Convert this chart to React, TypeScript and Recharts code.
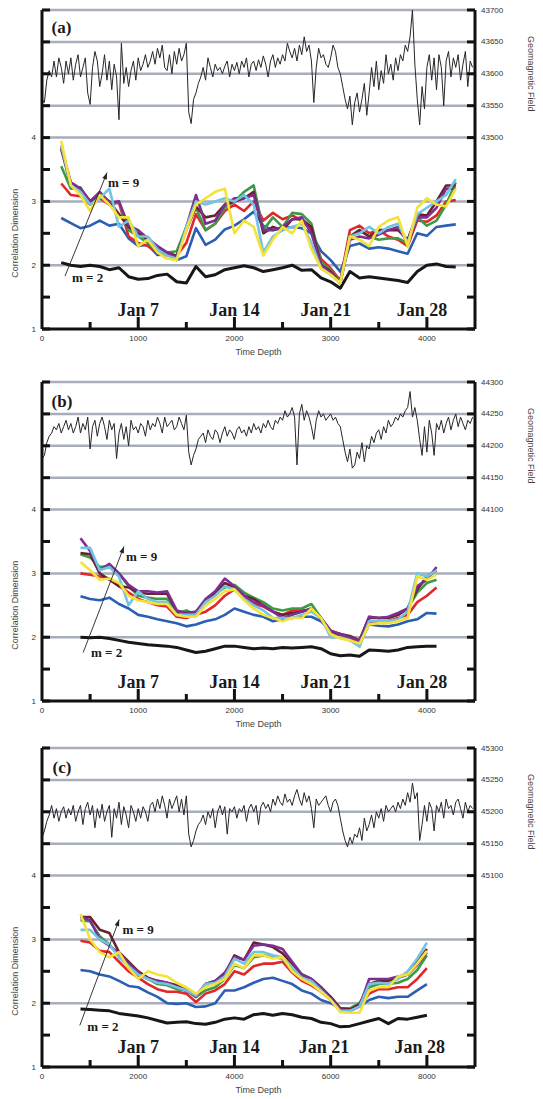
import React from 'react'
import { ComposedChart, Line, XAxis, YAxis, ReferenceLine, ReferenceDot } from 'recharts'

// ---------- panel (a) ----------
const X_A = [200, 300, 400, 500, 600, 700, 800, 900, 1000, 1100, 1200, 1300, 1400, 1500, 1600, 1700, 1800, 1900, 2000, 2100, 2200, 2300, 2400, 2500, 2600, 2700, 2800, 2900, 3000, 3100, 3200, 3300, 3400, 3500, 3600, 3700, 3800, 3900, 4000, 4100, 4200, 4300]
const M2_A = [2.04, 2.0, 1.98, 2.0, 1.98, 1.93, 1.96, 1.82, 1.78, 1.79, 1.84, 1.86, 1.74, 1.72, 1.98, 1.82, 1.85, 1.93, 1.96, 1.99, 1.96, 1.9, 1.93, 1.96, 2.0, 1.92, 1.93, 1.8, 1.74, 1.64, 1.9, 1.8, 1.82, 1.8, 1.78, 1.76, 1.73, 1.9, 2.0, 2.02, 1.98, 1.97]
const M3_A = [2.74, 2.66, 2.58, 2.62, 2.7, 2.62, 2.65, 2.42, 2.3, 2.32, 2.16, 2.17, 2.08, 2.14, 2.58, 2.32, 2.4, 2.56, 2.62, 2.72, 2.84, 2.62, 2.55, 2.58, 2.6, 2.58, 2.5, 2.22, 2.08, 1.9, 2.3, 2.34, 2.26, 2.28, 2.26, 2.22, 2.18, 2.5, 2.46, 2.6, 2.62, 2.64]
const M4_A = [3.28, 3.1, 3.08, 2.95, 3.05, 2.95, 2.98, 2.45, 2.35, 2.3, 2.2, 2.15, 2.15, 2.35, 2.8, 2.55, 2.65, 2.85, 2.95, 2.85, 3.0, 2.7, 2.82, 2.72, 2.78, 2.7, 2.55, 2.1, 1.95, 1.76, 2.55, 2.62, 2.5, 2.55, 2.45, 2.4, 2.3, 2.7, 2.68, 2.78, 3.0, 3.02]
const M5_A = [3.55, 3.2, 3.22, 2.95, 3.1, 2.95, 3.0, 2.55, 2.45, 2.35, 2.22, 2.2, 2.22, 2.6, 2.9, 2.55, 2.65, 2.9, 3.0, 3.15, 3.25, 2.55, 2.75, 2.6, 2.82, 2.8, 2.65, 2.05, 1.92, 1.74, 2.45, 2.55, 2.45, 2.4, 2.42, 2.42, 2.35, 2.75, 2.62, 2.7, 2.95, 3.3]
const M6_A = [3.82, 3.25, 3.2, 3.0, 3.12, 3.0, 2.8, 2.6, 2.5, 2.4, 2.25, 2.2, 2.15, 2.55, 2.92, 2.75, 2.78, 2.95, 3.0, 3.05, 3.15, 2.5, 2.6, 2.55, 2.72, 2.72, 2.6, 2.0, 1.9, 1.72, 2.45, 2.55, 2.45, 2.55, 2.55, 2.55, 2.4, 2.8, 2.78, 3.0, 3.25, 3.25]
const M7_A = [3.85, 3.3, 3.2, 3.0, 3.15, 2.98, 3.0, 2.62, 2.55, 2.42, 2.3, 2.2, 2.12, 2.6, 3.1, 2.65, 2.7, 2.95, 3.05, 3.05, 3.1, 2.55, 2.55, 2.6, 2.72, 2.75, 2.5, 2.0, 1.88, 1.72, 2.4, 2.45, 2.42, 2.48, 2.55, 2.6, 2.35, 2.75, 2.75, 2.9, 3.2, 3.2]
const M8_A = [3.88, 3.25, 3.15, 2.95, 3.05, 3.2, 2.6, 2.7, 2.45, 2.45, 2.25, 2.15, 2.1, 2.6, 3.0, 2.95, 3.0, 3.05, 3.0, 3.1, 2.95, 2.2, 2.45, 2.55, 2.6, 2.65, 2.35, 1.95, 1.85, 1.72, 2.45, 2.5, 2.6, 2.5, 2.6, 2.65, 2.35, 2.8, 2.9, 3.0, 3.1, 3.35]
const M9_A = [3.95, 3.25, 3.1, 2.85, 3.1, 2.95, 2.75, 2.75, 2.3, 2.4, 2.2, 2.1, 2.08, 2.55, 2.95, 3.05, 3.15, 3.2, 2.5, 2.7, 2.6, 2.15, 2.4, 2.6, 2.5, 2.7, 2.25, 1.95, 1.85, 1.72, 2.45, 2.4, 2.3, 2.6, 2.7, 2.75, 2.3, 2.9, 3.05, 2.95, 2.92, 3.2]
// geomagnetic field, deviation from 43600 nT, one value every 25 time-depth units
const GEO_A = [
  -40, -45, -10, 5, -5, 20, -5, 25, 10, -15,
  20, 0, 25, -10, 15, 30, -5, 10, 25, -30,
  -48, 10, 35, 20, -20, 0, 30, -10, 20, -25,
  15, -5, -72, 48, -15, 10, -20, 5, 20, -10,
  25, 5, 15, 30, 10, 20, 35, 15, 40, 25,
  45, 10, 5, 30, 0, 35, 15, 40, 20, 30,
  48, -60, -78, -40, -30, -15, -5, 10, -10, 25,
  10, -5, 15, 5, 10, 0, 12, 20, -5, 15,
  5, 18, 0, 20, 10, 25, -5, 15, 20, 5,
  22, 10, 28, 15, -5, 20, 30, 10, 25, 15,
  30, 20, 48, 35, 25, 40, 20, 45, 30, 58,
  35, 45, 20, -45, 10, 40, 25, 30, 15, 10,
  25, 45, 35, 10, 0, -20, -40, -55, -35, -80,
  -45, -30, -60, -40, -15, -65, -30, 10, -20, 20,
  -25, 5, -15, 30, 0, 15, -10, 25, 5, 30,
  20, 45, 35, 58, 100, 15, -40, -80, -20, -55,
  10, 30, -10, 25, -25, 30, 10, -50, 20, 35,
  -5, 25, 10, 30, -10, 15, 35, -20, 20, 10,
]

// ---------- panel (b) ----------
const X_B = [400, 500, 600, 700, 800, 900, 1000, 1100, 1200, 1300, 1400, 1500, 1600, 1700, 1800, 1900, 2000, 2100, 2200, 2300, 2400, 2500, 2600, 2700, 2800, 2900, 3000, 3100, 3200, 3300, 3400, 3500, 3600, 3700, 3800, 3900, 4000, 4100]
const M2_B = [2.0, 1.99, 2.0, 1.98, 1.95, 1.92, 1.9, 1.88, 1.87, 1.86, 1.84, 1.8, 1.76, 1.78, 1.82, 1.86, 1.86, 1.84, 1.82, 1.83, 1.82, 1.84, 1.83, 1.84, 1.85, 1.82, 1.74, 1.71, 1.72, 1.7, 1.8, 1.79, 1.78, 1.8, 1.84, 1.85, 1.86, 1.86]
const M3_B = [2.64, 2.6, 2.58, 2.62, 2.52, 2.45, 2.35, 2.32, 2.28, 2.25, 2.22, 2.17, 2.2, 2.25, 2.28, 2.35, 2.45, 2.4, 2.35, 2.32, 2.25, 2.28, 2.3, 2.32, 2.32, 2.25, 2.1, 2.0, 1.95, 1.9, 2.2, 2.18, 2.17, 2.2, 2.25, 2.28, 2.38, 2.37]
const M4_B = [3.0, 2.98, 2.95, 2.92, 2.8, 2.7, 2.6, 2.55, 2.5, 2.48, 2.32, 2.3, 2.35, 2.4, 2.5, 2.65, 2.75, 2.62, 2.52, 2.48, 2.4, 2.35, 2.42, 2.42, 2.42, 2.3, 2.05, 2.02, 2.0, 1.92, 2.22, 2.25, 2.25, 2.3, 2.35, 2.55, 2.65, 2.78]
const M5_B = [3.3, 3.25, 3.1, 3.12, 3.0, 2.8, 2.65, 2.62, 2.6, 2.6, 2.38, 2.42, 2.35, 2.55, 2.68, 2.78, 2.82, 2.7, 2.62, 2.55, 2.45, 2.42, 2.45, 2.45, 2.52, 2.3, 2.1, 2.05, 2.0, 1.95, 2.32, 2.3, 2.3, 2.35, 2.45, 2.7, 2.85, 2.9]
const M6_B = [3.32, 3.3, 3.0, 2.9, 2.8, 2.78, 2.7, 2.68, 2.68, 2.68, 2.4, 2.38, 2.4, 2.55, 2.7, 2.85, 2.78, 2.65, 2.6, 2.5, 2.4, 2.35, 2.38, 2.4, 2.45, 2.3, 2.08, 2.05, 2.02, 1.95, 2.3, 2.3, 2.3, 2.35, 2.45, 2.75, 2.95, 3.05]
const M7_B = [3.55, 3.35, 3.05, 3.15, 3.0, 2.82, 2.72, 2.72, 2.7, 2.72, 2.42, 2.38, 2.4, 2.6, 2.72, 2.92, 2.8, 2.65, 2.55, 2.5, 2.4, 2.3, 2.35, 2.4, 2.45, 2.3, 2.1, 2.05, 2.0, 1.95, 2.32, 2.3, 2.32, 2.38, 2.45, 2.8, 2.9, 3.1]
const M8_B = [3.4, 3.4, 3.05, 3.1, 2.95, 2.5, 2.72, 2.6, 2.55, 2.55, 2.35, 2.35, 2.35, 2.55, 2.65, 2.8, 2.75, 2.6, 2.5, 2.42, 2.3, 2.3, 2.3, 2.35, 2.4, 2.3, 2.0, 2.0, 1.95, 1.85, 2.25, 2.25, 2.25, 2.28, 2.4, 3.0, 2.95, 3.05]
const M9_B = [3.18, 3.05, 2.9, 2.92, 2.85, 2.65, 2.58, 2.55, 2.52, 2.52, 2.35, 2.32, 2.32, 2.5, 2.6, 2.72, 2.75, 2.58, 2.45, 2.35, 2.3, 2.25, 2.3, 2.3, 2.45, 2.3, 2.05, 1.98, 1.95, 1.9, 2.2, 2.22, 2.22, 2.25, 2.3, 2.95, 2.9, 2.98]
// deviation from 44200 nT, every 25 units
const GEO_B = [
  -20, -15, 5, 15, 20, 30, 25, 35, 20, 30,
  40, 25, 35, 20, 30, 45, 20, 35, 25, 45,
  -5, 30, 40, 15, 35, 45, 30, 10, 40, 25,
  35, -20, 20, 35, 10, 30, 0, 40, 25, 30,
  20, 35, 30, 15, 40, 25, 35, 30, 45, 35,
  20, 45, 30, 35, 40, 25, 30, 45, 35, 25,
  48, -10, -30, -15, -5, 10, 15, 20, 5, 25,
  15, 10, 25, 20, 5, 20, 30, 15, 25, 20,
  10, 25, 30, 20, 25, 15, 30, 20, 35, 25,
  30, 20, 35, 28, 40, 30, 25, 40, 35, 45,
  40, 55, 45, 50, 60, 45, -30, 50, 65, 40,
  55, 45, 30, 10, 40, 55, 45, 50, 40, 45,
  50, 40, 45, 35, 30, 10, -10, -25, -5, -35,
  -30, -10, -20, 5, -25, 0, -5, 15, 5, 20,
  25, 10, 30, 20, 40, 30, 35, 45, 40, 50,
  45, 55, 60, 85, 45, 60, 40, 10, -15, 30,
  -10, 40, 20, -15, 35, 25, 40, 20, 35, 45,
  25, 40, 50, 30, 45, 35, 25, 40, 35, 45,
]

// ---------- panel (c) ----------
const X_C = [800, 1000, 1200, 1400, 1600, 1800, 2000, 2200, 2400, 2600, 2800, 3000, 3200, 3400, 3600, 3800, 4000, 4200, 4400, 4600, 4800, 5000, 5200, 5400, 5600, 5800, 6000, 6200, 6400, 6600, 6800, 7000, 7200, 7400, 7600, 7800, 8000]
const M2_C = [1.91, 1.9, 1.89, 1.88, 1.84, 1.82, 1.8, 1.77, 1.73, 1.69, 1.7, 1.71, 1.68, 1.67, 1.7, 1.75, 1.77, 1.75, 1.82, 1.84, 1.81, 1.84, 1.82, 1.78, 1.76, 1.7, 1.68, 1.63, 1.64, 1.68, 1.72, 1.76, 1.68, 1.76, 1.75, 1.78, 1.81]
const M3_C = [2.52, 2.5, 2.45, 2.42, 2.35, 2.27, 2.25, 2.17, 2.1, 2.0, 1.99, 2.0, 1.94, 1.95, 2.0, 2.2, 2.2, 2.25, 2.32, 2.38, 2.4, 2.35, 2.3, 2.2, 2.15, 2.05, 2.0, 1.92, 1.9, 1.95, 2.05, 2.1, 2.08, 2.1, 2.1, 2.2, 2.3]
const M4_C = [2.98, 2.95, 2.82, 2.8, 2.65, 2.5, 2.4, 2.3, 2.22, 2.18, 2.18, 2.15, 2.02, 2.15, 2.2, 2.3, 2.5, 2.45, 2.58, 2.62, 2.62, 2.65, 2.48, 2.35, 2.28, 2.18, 2.05, 1.88, 1.88, 1.95, 2.15, 2.22, 2.22, 2.25, 2.25, 2.38, 2.55]
const M5_C = [3.3, 3.28, 3.05, 2.92, 2.75, 2.6, 2.45, 2.38, 2.3, 2.28, 2.22, 2.2, 2.1, 2.2, 2.25, 2.38, 2.6, 2.55, 2.72, 2.75, 2.72, 2.7, 2.55, 2.4, 2.35, 2.22, 2.1, 1.92, 1.92, 2.0, 2.25, 2.3, 2.3, 2.32, 2.38, 2.52, 2.75]
const M6_C = [3.35, 3.35, 3.15, 3.1, 2.8, 2.65, 2.5, 2.4, 2.35, 2.32, 2.28, 2.2, 2.12, 2.3, 2.35, 2.45, 2.75, 2.68, 2.95, 2.92, 2.88, 2.78, 2.62, 2.45, 2.38, 2.25, 2.1, 1.92, 1.9, 1.98, 2.3, 2.35, 2.35, 2.4, 2.45, 2.65, 2.85]
const M7_C = [3.35, 3.3, 3.0, 2.9, 2.78, 2.62, 2.48, 2.38, 2.35, 2.32, 2.25, 2.2, 2.1, 2.3, 2.35, 2.48, 2.72, 2.68, 2.9, 2.92, 2.9, 2.85, 2.65, 2.45, 2.38, 2.25, 2.08, 1.9, 1.88, 1.95, 2.38, 2.38, 2.38, 2.42, 2.45, 2.6, 2.8]
const M8_C = [3.15, 3.15, 3.0, 2.92, 2.72, 2.58, 2.45, 2.38, 2.32, 2.3, 2.25, 2.2, 2.12, 2.3, 2.32, 2.42, 2.7, 2.62, 2.8, 2.8, 2.75, 2.72, 2.55, 2.4, 2.35, 2.2, 2.05, 1.88, 1.88, 1.95, 2.3, 2.32, 2.3, 2.38, 2.5, 2.7, 2.95]
const M9_C = [3.4, 3.0, 2.8, 2.72, 2.8, 2.55, 2.38, 2.5, 2.45, 2.42, 2.32, 2.25, 2.15, 2.25, 2.3, 2.38, 2.62, 2.55, 2.75, 2.75, 2.7, 2.72, 2.5, 2.38, 2.3, 2.18, 2.05, 1.86, 1.85, 1.85, 2.2, 2.25, 2.25, 2.42, 2.45, 2.62, 2.82]
// deviation from 45200 nT, every 50 units
const GEO_C = [
  -40, -30, -15, -5, 10, -10, 5, -15, 0, 8,
  -10, 5, -5, 10, -15, 0, 10, -20, 5, 15,
  -5, 10, -25, 5, -10, 12, -15, 0, 10, -40,
  5, -10, 15, -20, 8, -5, -25, 10, 0, -15,
  5, -10, 8, 0, -15, 10, 15, 0, 20, 5,
  25, 10, -10, 20, 5, 15, 25, 0, 20, -5,
  25, -35, -55, -45, -30, -20, -15, -5, -20, 0,
  -10, 5, -25, 0, 10, -5, 8, -35, 5, 0,
  8, -10, 5, 0, 10, -15, 5, 12, 0, 10,
  -20, 8, 15, 5, 12, 0, 20, 10, 25, 15,
  10, 28, 15, 20, 10, 25, 35, 20, 10, 30,
  15, 25, 5, -25, 20, 10, 15, 20, 25, 10,
  0, 15, 20, 10, -10, -30, -45, -55, -40, -50,
  -35, -40, -25, -45, -10, -30, -20, -5, -25, 0,
  -10, 5, -15, 10, 0, 5, 10, 0, 15, 5,
  20, 10, 30, 15, 45, 20, 30, -45, -20, 10,
  -15, 15, 5, -30, 10, 0, 15, -10, 20, 5,
  10, -5, 15, 20, 5, -10, 15, 0, 10, 5,
]

const CD_TICKS = [1, 1.5, 2, 2.5, 3, 3.5, 4, 4.5, 5, 5.5, 6]
const GRID_LEVELS = [2, 3, 4, 4.5, 5, 5.5, 6]
const DATE_LABELS = ['Jan 7', 'Jan 14', 'Jan 21', 'Jan 28']

const SERIES = [
  { key: 'm2', color: '#171717', width: 3 },
  { key: 'm3', color: '#2b5fb4', width: 2.6 },
  { key: 'm4', color: '#e3262a', width: 2.6 },
  { key: 'm5', color: '#3f9a46', width: 2.6 },
  { key: 'm6', color: '#6b2130', width: 2.6 },
  { key: 'm7', color: '#7c2f8f', width: 2.6 },
  { key: 'm8', color: '#72c3e4', width: 2.6 },
  { key: 'm9', color: '#f4e23a', width: 2.6 },
]

const SANS = '"Liberation Sans", Arial, sans-serif'
const SERIF = '"Liberation Serif", "Times New Roman", serif'
const GAP = 6

interface PanelConfig {
  tag: string
  xs: number[]
  dims: number[][]
  geo: number[]
  geoBase: number
  geoStep: number
  geoDomain: [number, number]
  geoTicks: number[]
  xMax: number
  xTicks: number[]
  xMajor: number
  dates: number[]
  dateY: number
  tagPos: [number, number]
  m9Pos: [number, number]
  m2Pos: [number, number]
  arrow: [number, number, number, number]
}

const PANELS: PanelConfig[] = [
  {
    tag: '(a)', xs: X_A, dims: [M2_A, M3_A, M4_A, M5_A, M6_A, M7_A, M8_A, M9_A],
    geo: GEO_A, geoBase: 43600, geoStep: 25, geoDomain: [43200, 43700],
    geoTicks: [43200, 43250, 43300, 43350, 43400, 43450, 43500, 43550, 43600, 43650, 43700],
    xMax: 4500, xTicks: [0, 500, 1000, 1500, 2000, 2500, 3000, 3500, 4000, 4500], xMajor: 1000,
    dates: [1000, 2000, 2950, 3950], dateY: 1.3,
    tagPos: [100, 5.72], m9Pos: [686, 3.3], m2Pos: [312, 1.81], arrow: [239, 1.83, 676, 3.45],
  },
  {
    tag: '(b)', xs: X_B, dims: [M2_B, M3_B, M4_B, M5_B, M6_B, M7_B, M8_B, M9_B],
    geo: GEO_B, geoBase: 44200, geoStep: 25, geoDomain: [43800, 44300],
    geoTicks: [43800, 43850, 43900, 43950, 44000, 44050, 44100, 44150, 44200, 44250, 44300],
    xMax: 4500, xTicks: [0, 500, 1000, 1500, 2000, 2500, 3000, 3500, 4000, 4500], xMajor: 1000,
    dates: [1000, 2000, 2950, 3950], dateY: 1.29,
    tagPos: [100, 5.69], m9Pos: [873, 3.26], m2Pos: [509, 1.76], arrow: [428, 1.76, 852, 3.42],
  },
  {
    tag: '(c)', xs: X_C, dims: [M2_C, M3_C, M4_C, M5_C, M6_C, M7_C, M8_C, M9_C],
    geo: GEO_C, geoBase: 45200, geoStep: 50, geoDomain: [44800, 45300],
    geoTicks: [44800, 44850, 44900, 44950, 45000, 45050, 45100, 45150, 45200, 45250, 45300],
    xMax: 9000, xTicks: [0, 1000, 2000, 3000, 4000, 5000, 6000, 7000, 8000, 9000], xMajor: 2000,
    dates: [2000, 4000, 5860, 7850], dateY: 1.31,
    tagPos: [220, 5.7], m9Pos: [1672, 3.15], m2Pos: [942, 1.64], arrow: [785, 1.65, 1604, 3.31],
  },
]

interface TickProps {
  x?: number
  y?: number
  payload?: { value: number }
}

function LeftTick({ x = 0, y = 0, payload }: TickProps) {
  const v = payload?.value ?? 0
  const edge = x + GAP
  return (
    <g>
      <line x1={edge} x2={edge + 8} y1={y} y2={y} stroke="#111" strokeWidth={3} />
      {Number.isInteger(v) && v <= 4 ? (
        <text x={x} y={y} textAnchor="end" dominantBaseline="central" fontSize={8} fontFamily={SANS} fill="#333">
          {v}
        </text>
      ) : null}
    </g>
  )
}

function RightTick({ x = 0, y = 0, payload, min }: TickProps & { min: number }) {
  const v = payload?.value ?? 0
  const edge = x - GAP
  return (
    <g>
      <line x1={edge - 8} x2={edge} y1={y} y2={y} stroke="#111" strokeWidth={3} />
      {v >= min ? (
        <text x={x} y={y} textAnchor="start" dominantBaseline="central" fontSize={8} fontFamily={SANS} fill="#333">
          {v}
        </text>
      ) : null}
    </g>
  )
}

function BottomTick({ x = 0, y = 0, payload, major, max }: TickProps & { major: number; max: number }) {
  const v = payload?.value ?? 0
  const edge = y - GAP
  const isMajor = v % major === 0
  return (
    <g>
      {v > 0 && v < max ? (
        <line x1={x} x2={x} y1={edge} y2={edge - (isMajor ? 12 : 7)} stroke="#111" strokeWidth={3} />
      ) : null}
      {isMajor && v < max ? (
        <text x={x} y={y} textAnchor="middle" dominantBaseline="hanging" fontSize={8} fontFamily={SANS} fill="#333">
          {v}
        </text>
      ) : null}
    </g>
  )
}

function ArrowShape(props: { x1?: number; y1?: number; x2?: number; y2?: number }) {
  const { x1 = 0, y1 = 0, x2 = 0, y2 = 0 } = props
  const ang = Math.atan2(y2 - y1, x2 - x1)
  const len = 7
  const a = [x2 - len * Math.cos(ang - 0.35), y2 - len * Math.sin(ang - 0.35)]
  const b = [x2 - len * Math.cos(ang + 0.35), y2 - len * Math.sin(ang + 0.35)]
  return (
    <g>
      <line x1={x1} y1={y1} x2={x2} y2={y2} stroke="#222" strokeWidth={0.9} />
      <polygon points={`${x2},${y2} ${a[0]},${a[1]} ${b[0]},${b[1]}`} fill="#222" />
    </g>
  )
}

function textShape(text: string, opts: { dx?: number; dy?: number; size: number; anchor?: string; serif?: boolean; bold?: boolean; rotate?: number; fill?: string }) {
  return (p: { cx?: number; cy?: number }) => {
    const cx = (p.cx ?? 0) + (opts.dx ?? 0)
    const cy = (p.cy ?? 0) + (opts.dy ?? 0)
    return (
      <text
        x={cx}
        y={cy}
        textAnchor={opts.anchor ?? 'start'}
        dominantBaseline="central"
        fontSize={opts.size}
        fontFamily={opts.serif ? SERIF : SANS}
        fontWeight={opts.bold ? 'bold' : 'normal'}
        fill={opts.fill ?? '#1a1a1a'}
        transform={opts.rotate ? `rotate(${opts.rotate} ${cx} ${cy})` : undefined}
      >
        {text}
      </text>
    )
  }
}

function Panel({ cfg }: { cfg: PanelConfig }) {
  const rows = cfg.xs.map((x, i) => {
    const row: Record<string, number> = { x }
    SERIES.forEach((s, k) => {
      row[s.key] = cfg.dims[k][i]
    })
    return row
  })
  const geoData = cfg.geo.map((d, i) => ({ x: i * cfg.geoStep, v: cfg.geoBase + d }))
  const labelMin = cfg.geoDomain[1] - 200

  return (
    <ComposedChart width={543} height={367} data={rows} margin={{ top: 10, right: 8, bottom: 8, left: 12 }}>
      <XAxis
        dataKey="x"
        type="number"
        domain={[0, cfg.xMax]}
        ticks={cfg.xTicks}
        interval={0}
        allowDataOverflow
        height={30}
        tickSize={0}
        tickMargin={GAP}
        axisLine={{ stroke: '#111', strokeWidth: 3 }}
        tick={(p: TickProps) => <BottomTick {...p} major={cfg.xMajor} max={cfg.xMax} />}
      />
      <YAxis
        yAxisId="cd"
        orientation="left"
        type="number"
        domain={[1, 6]}
        ticks={CD_TICKS}
        interval={0}
        allowDataOverflow
        width={30}
        tickSize={0}
        tickMargin={GAP}
        axisLine={{ stroke: '#111', strokeWidth: 3 }}
        tick={(p: TickProps) => <LeftTick {...p} />}
      />
      <YAxis
        yAxisId="geo"
        orientation="right"
        type="number"
        domain={cfg.geoDomain}
        ticks={cfg.geoTicks}
        interval={0}
        allowDataOverflow
        width={60}
        tickSize={0}
        tickMargin={GAP}
        axisLine={{ stroke: '#111', strokeWidth: 3 }}
        tick={(p: TickProps) => <RightTick {...p} min={labelMin} />}
      />
      {GRID_LEVELS.map((lv) => (
        <ReferenceLine key={lv} yAxisId="cd" y={lv} stroke="#a7adba" strokeWidth={2.5} />
      ))}
      <Line
        yAxisId="geo"
        data={geoData}
        dataKey="v"
        type="linear"
        stroke="#262626"
        strokeWidth={1}
        dot={false}
        isAnimationActive={false}
      />
      {SERIES.map((s) => (
        <Line
          key={s.key}
          yAxisId="cd"
          dataKey={s.key}
          type="linear"
          stroke={s.color}
          strokeWidth={s.width}
          strokeLinejoin="round"
          dot={false}
          isAnimationActive={false}
        />
      ))}
      <ReferenceLine
        yAxisId="cd"
        segment={[
          { x: cfg.arrow[0], y: cfg.arrow[1] },
          { x: cfg.arrow[2], y: cfg.arrow[3] },
        ]}
        shape={ArrowShape}
      />
      <ReferenceDot yAxisId="cd" x={cfg.tagPos[0]} y={cfg.tagPos[1]} shape={textShape(cfg.tag, { size: 17, serif: true, bold: true })} />
      <ReferenceDot yAxisId="cd" x={cfg.m9Pos[0]} y={cfg.m9Pos[1]} shape={textShape('m = 9', { size: 13, serif: true, bold: true })} />
      <ReferenceDot yAxisId="cd" x={cfg.m2Pos[0]} y={cfg.m2Pos[1]} shape={textShape('m = 2', { size: 13, serif: true, bold: true })} />
      {cfg.dates.map((d, i) => (
        <ReferenceDot
          key={d}
          yAxisId="cd"
          x={d}
          y={cfg.dateY}
          shape={textShape(DATE_LABELS[i], { size: 18, serif: true, bold: true, anchor: 'middle' })}
        />
      ))}
      <ReferenceDot
        yAxisId="cd"
        x={0}
        y={2.5}
        shape={textShape('Correlation Dimension', { size: 9, anchor: 'middle', dx: -27, rotate: -90, fill: '#444' })}
      />
      <ReferenceDot
        yAxisId="cd"
        x={cfg.xMax}
        y={5}
        shape={textShape('Geomagnetic Field', { size: 9, anchor: 'middle', dx: 56, rotate: 90, fill: '#444' })}
      />
      <ReferenceDot
        yAxisId="cd"
        x={cfg.xMax / 2}
        y={1}
        shape={textShape('Time Depth', { size: 9, anchor: 'middle', dy: 23, fill: '#444' })}
      />
    </ComposedChart>
  )
}

const PANEL_TOPS = [0, 372, 738]

export default function App() {
  return (
    <div style={{ position: 'absolute', left: 0, top: 0, width: 543, height: 1099, overflow: 'hidden', background: '#fff' }}>
      {PANELS.map((cfg, i) => (
        <div key={cfg.tag} style={{ position: 'absolute', left: 0, top: PANEL_TOPS[i] }}>
          <Panel cfg={cfg} />
        </div>
      ))}
    </div>
  )
}
